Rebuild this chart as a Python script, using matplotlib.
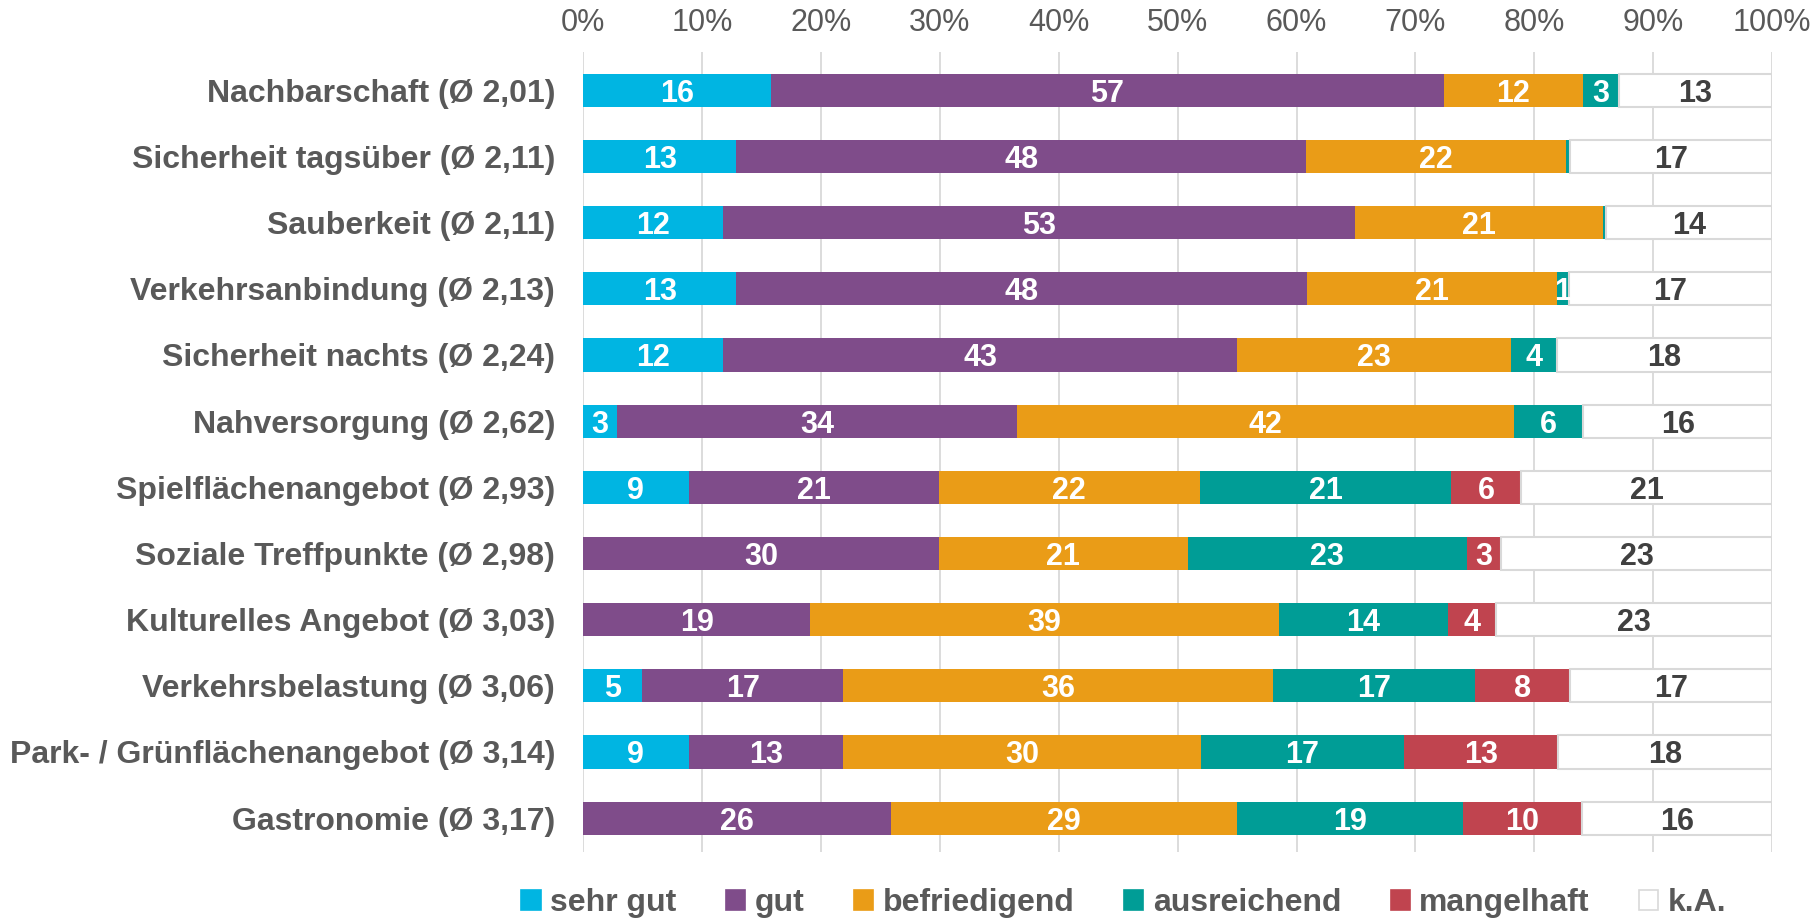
import matplotlib
matplotlib.use("Agg")
import matplotlib.pyplot as plt
from matplotlib.patches import Patch
import numpy as np

# categories (top to bottom)
categories = [
    "Nachbarschaft (Ø 2,01)",
    "Sicherheit tagsüber (Ø 2,11)",
    "Sauberkeit (Ø 2,11)",
    "Verkehrsanbindung (Ø 2,13)",
    "Sicherheit nachts (Ø 2,24)",
    "Nahversorgung (Ø 2,62)",
    "Spielflächenangebot (Ø 2,93)",
    "Soziale Treffpunkte (Ø 2,98)",
    "Kulturelles Angebot (Ø 3,03)",
    "Verkehrsbelastung (Ø 3,06)",
    "Park- / Grünflächenangebot (Ø 3,14)",
    "Gastronomie (Ø 3,17)",
]

# shares in percent
sehr_gut = [15.8, 12.9, 11.8, 12.9, 11.8, 2.9, 8.9, 0.0, 0.0, 5.0, 8.9, 0.0]
gut = [56.6, 47.9, 53.1, 48.0, 43.2, 33.6, 21.0, 29.9, 19.1, 16.9, 13.0, 25.9]
befriedigend = [11.7, 21.9, 20.9, 21.0, 23.0, 41.8, 22.0, 21.0, 39.4, 36.1, 30.1, 29.1]
ausreichend = [3.0, 0.3, 0.2, 1.0, 3.9, 5.8, 21.1, 23.4, 14.2, 17.0, 17.0, 19.0]
mangelhaft = [0.0, 0.0, 0.0, 0.0, 0.0, 0.0, 5.9, 2.9, 4.1, 8.0, 13.0, 10.0]
keine_angabe = [12.9, 17.0, 14.0, 17.1, 18.1, 15.9, 21.1, 22.8, 23.2, 17.0, 18.0, 16.0]

series_names = ["sehr gut", "gut", "befriedigend", "ausreichend", "mangelhaft", "k.A."]
series_values = [sehr_gut, gut, befriedigend, ausreichend, mangelhaft, keine_angabe]
colors = ["#00B5E2", "#7F4C8A", "#EA9C17", "#009D96", "#C0444F", "#FFFFFF"]

plt.rcParams["font.family"] = ["Liberation Sans", "DejaVu Sans"]
text_gray = "#595959"

fig = plt.figure(figsize=(18.1, 9.18), dpi=100)
ax = fig.add_axes([0.3221, 0.072, 0.657, 0.871])

y = np.arange(len(categories))
left = np.zeros(len(categories))
for name, vals, col in zip(series_names, series_values, colors):
    vals = np.array(vals)
    if name == "k.A.":
        bars = ax.barh(y, vals, left=left, height=0.5, color=col,
                       edgecolor="#D9D9D9", linewidth=1.5, zorder=2)
        lab_col = "#404040"
    else:
        bars = ax.barh(y, vals, left=left, height=0.5, color=col,
                       linewidth=0, zorder=2)
        lab_col = "white"
    labels = [str(int(round(v))) if round(v) > 0 else "" for v in vals]
    texts = ax.bar_label(bars, labels=labels, label_type="center", color=lab_col,
                         fontsize=22, fontweight="bold")
    for t in texts:
        t.set_va("center_baseline")
    left += vals

ax.set_xlim(0, 100)
ax.set_ylim(11.51, -0.574)
ax.set_xticks(np.arange(0, 101, 10))
ax.set_xticklabels([f"{t}%" for t in range(0, 101, 10)])
ax.xaxis.tick_top()
ax.tick_params(axis="x", length=0, pad=10, labelsize=22, labelcolor=text_gray)
ax.set_yticks(y)
ax.set_yticklabels(categories, fontsize=23, fontweight="bold", color=text_gray)
ax.tick_params(axis="y", length=0, pad=20)
ax.grid(axis="x", color="#D9D9D9", linewidth=1.3, zorder=0)
ax.set_axisbelow(True)
for s in ax.spines.values():
    s.set_visible(False)

handles = [Patch(facecolor=c, edgecolor=("#D9D9D9" if n == "k.A." else c), linewidth=1.2)
           for n, c in zip(series_names, colors)]
leg = fig.legend(handles, series_names, loc="center", bbox_to_anchor=(0.621, 0.016),
                 ncol=6, frameon=False, handlelength=0.6, handleheight=0.6,
                 handletextpad=0.3, columnspacing=1.55,
                 prop={"size": 23, "weight": "bold"})
for t in leg.get_texts():
    t.set_color(text_gray)

fig.savefig("out.png", dpi=100)
